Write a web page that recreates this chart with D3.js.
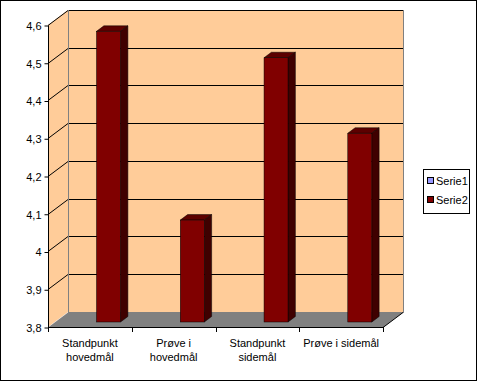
<!DOCTYPE html>
<html>
<head>
<meta charset="utf-8">
<script src="https://cdn.jsdelivr.net/npm/d3@7"></script>
<style>
  body { margin: 0; background: #fff; }
  text { font-family: "Liberation Sans", Arial, sans-serif; font-size: 11px; fill: #000; }
</style>
</head>
<body>
<div id="chart"></div>
<script>
// Data
const categories = [['Standpunkt', 'hovedmål'], ['Prøve i', 'hovedmål'], ['Standpunkt', 'sidemål'], ['Prøve i sidemål']]
const serie1 = [null, null, null, null]
const serie2 = [4.57, 4.07, 4.5, 4.3]
const yTicks = [3.8, 3.9, 4.0, 4.1, 4.2, 4.3, 4.4, 4.5, 4.6]
const seriesNames = ['Serie1', 'Serie2']
const seriesColors = ['#9999ff', '#800000']

const width = 477, height = 382
const depth = { dx: 20, dy: -15 }   // 3d offset of the back wall

const svg = d3.select('#chart').append('svg')
  .attr('width', width)
  .attr('height', height)

// Scales
const xScale = d3.scaleBand()
  .domain(d3.range(categories.length))
  .range([48, 383])
const yScale = d3.scaleLinear()
  .domain([3.8, 4.6])
  .range([327, 25])

const x0 = 48, x1 = 383, yTop = yScale(4.6), yBot = yScale(3.8)

// walls
svg.append('path')  // left wall
  .attr('d', `M${x0},${yTop} L${x0 + depth.dx},${yTop + depth.dy} L${x0 + depth.dx},${yBot + depth.dy} L${x0},${yBot} Z`)
  .attr('fill', '#ffcc99')
svg.append('rect')  // back wall
  .attr('x', x0 + depth.dx + 0.5)
  .attr('y', yTop + depth.dy + 0.5)
  .attr('width', x1 - x0)
  .attr('height', yBot - yTop)
  .attr('fill', '#ffcc99')
  .attr('stroke', '#808080')

// gridlines (not on the floor level)
yTicks.slice(1).forEach(t => {
  const y = Math.round(yScale(t)) + 0.5
  svg.append('path')
    .attr('d', `M${x0},${y} L${x0 + depth.dx},${y + depth.dy} L${x1 + depth.dx},${y + depth.dy}`)
    .attr('fill', 'none')
    .attr('stroke', '#000')
})
svg.append('line')
  .attr('x1', x0 + depth.dx + 0.5).attr('x2', x0 + depth.dx + 0.5)
  .attr('y1', yTop + depth.dy).attr('y2', yBot + depth.dy)
  .attr('stroke', '#808080')

// floor
svg.append('path')
  .attr('d', `M${x0},${yBot + 0.5} L${x1},${yBot + 0.5} L${x1 + depth.dx},${yBot + depth.dy + 0.5} L${x0 + depth.dx},${yBot + depth.dy + 0.5} Z`)
  .attr('fill', '#808080')

// bars
const f0 = 1 / 3, f1 = 0.7
serie2.forEach((v, i) => {
  const left = xScale(i) + xScale.bandwidth() / 2 + depth.dx * f0
  const w = 24
  const yb = yScale(3.8) + depth.dy * f0
  const yt = yScale(v) + depth.dy * f0
  const ox = depth.dx * (f1 - f0), oy = depth.dy * (f1 - f0)
  const g = svg.append('g')
  g.append('path')  // top
    .attr('d', `M${left},${yt} L${left + ox},${yt + oy} L${left + w + ox},${yt + oy} L${left + w},${yt} Z`)
    .attr('fill', '#5c0000').attr('stroke', '#000').attr('stroke-width', 0.5)
  g.append('path')  // side
    .attr('d', `M${left + w},${yt} L${left + w + ox},${yt + oy} L${left + w + ox},${yb + oy} L${left + w},${yb} Z`)
    .attr('fill', '#3f0000').attr('stroke', '#000').attr('stroke-width', 0.5)
  g.append('rect')  // front
    .attr('x', left).attr('y', yt)
    .attr('width', w).attr('height', yb - yt)
    .attr('fill', '#800000').attr('stroke', '#000').attr('stroke-width', 0.5)
})

// axes
const yAxis = d3.axisLeft(yScale)
  .tickValues(yTicks)
  .tickSize(4)
  .tickFormat(d => d3.format('.1f')(d).replace('.0', '').replace('.', ','))
svg.append('g')
  .attr('transform', `translate(${x0 + 0.5},0.5)`)
  .call(yAxis)
  .call(g => g.selectAll('text').attr('x', -7).attr('dy', '0.35em'))
  .call(g => g.select('.domain').attr('d', `M0,${yTop}V${yBot}`))

const xAxis = svg.append('g')
xAxis.append('path')
  .attr('d', `M${x0},${yBot + 0.5} H${x1} L${x1 + depth.dx},${yBot + depth.dy + 0.5}`)
  .attr('fill', 'none').attr('stroke', '#000')
d3.range(categories.length + 1).forEach(i => {
  const x = Math.round(x0 + i * xScale.bandwidth()) + 0.5
  xAxis.append('line')
    .attr('x1', x).attr('x2', x)
    .attr('y1', yBot).attr('y2', yBot + 5)
    .attr('stroke', '#000')
})
categories.forEach((lines, i) => {
  const t = xAxis.append('text')
    .attr('text-anchor', 'middle')
    .attr('x', xScale(i) + xScale.bandwidth() / 2)
    .attr('y', 347)
  lines.forEach((l, j) => {
    t.append('tspan')
      .attr('x', xScale(i) + xScale.bandwidth() / 2)
      .attr('dy', j === 0 ? 0 : 14)
      .text(l)
  })
})

// legend
const legend = svg.append('g')
legend.append('rect')
  .attr('x', 423.5).attr('y', 169.5)
  .attr('width', 46).attr('height', 44)
  .attr('fill', '#fff').attr('stroke', '#000')
seriesNames.forEach((name, i) => {
  legend.append('rect')
    .attr('x', 427.5).attr('y', 177.5 + i * 19)
    .attr('width', 6).attr('height', 6)
    .attr('fill', seriesColors[i]).attr('stroke', '#000')
  legend.append('text')
    .attr('x', 436).attr('y', 185 + i * 19)
    .text(name)
})

// outer border
svg.append('rect')
  .attr('x', 0.5).attr('y', 0.5)
  .attr('width', width - 1).attr('height', height - 2)
  .attr('fill', 'none').attr('stroke', '#000')
</script>
</body>
</html>
